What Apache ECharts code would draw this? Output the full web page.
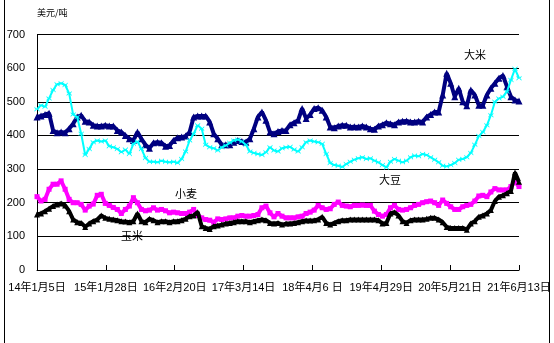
<!DOCTYPE html>
<html>
<head>
<meta charset="utf-8">
<script src="https://cdn.jsdelivr.net/npm/echarts@6/dist/echarts.min.js"></script>
<style>
  html, body { margin: 0; padding: 0; background: #fff; }
  #chart { width: 554px; height: 343px; }
</style>
</head>
<body>
<div id="chart"></div>
<script>
// Date axis: day offsets from 2014-01-05; ticks every 388 days up to 2021-06-13
const tickLabels = ['14年1月5日', '15年1月28日', '16年2月20日', '17年3月14日',
                    '18年4月6 日', '19年4月29日', '20年5月21日', '21年6月13日'];
const tickStepDays = 388;
const spanDays = 2716;

// Price samples (美元/吨), evenly spaced over the whole span
const rice = [
  455,458,462,466,415,408,410,408,420,435,
  455,460,442,440,430,428,428,430,428,428,
  415,410,400,390,385,410,390,372,362,378,
  380,378,368,370,385,393,395,398,410,455,
  458,458,458,440,405,390,372,372,372,380,
  385,382,380,390,420,455,470,445,410,405,
  412,
  415,415,432,438,445,480,450,462,480,482,
  475,455,425,423,428,430,430,425,426,425,
  428,425,420,418,428,432,438,435,432,440,
  442,443,440,440,442,440,455,462,470,470,
  520,585,555,515,540,500,488,535,520,490,
  490,520,540,555,570,578,545,515,505,502
];
const soybean = [
  478,490,485,510,535,552,555,550,525,462,
  455,405,342,360,380,385,382,385,368,365,
  360,350,358,345,375,382,360,333,322,322,
  320,325,322,320,322,318,330,352,385,405,
  430,420,372,365,362,355,365,370,378,385,
  388,382,372,352,348,345,342,350,365,355,
  352,
  362,365,366,358,352,365,380,385,382,380,
  375,345,318,312,310,306,315,322,328,332,
  335,330,332,325,320,312,305,322,330,325,
  320,325,335,340,338,345,342,335,328,320,
  310,308,312,318,328,330,335,348,372,398,
  410,430,460,500,510,515,530,565,598,570
];
const wheat = [
  218,205,210,240,255,255,265,240,210,200,
  200,195,178,190,196,222,225,198,192,186,
  180,168,180,190,215,200,180,176,178,185,
  178,180,176,170,172,170,168,168,172,180,
  162,155,150,148,142,152,150,152,155,155,
  160,162,160,160,162,165,185,190,170,158,
  168,
  160,155,155,155,158,160,168,172,178,192,
  185,180,182,195,202,192,190,188,192,192,
  193,192,192,175,165,160,165,185,192,180,
  178,180,185,192,195,200,203,205,200,192,
  208,198,188,180,180,188,192,195,205,220,
  222,218,232,242,238,238,238,248,262,248
];
const corn = [
  165,168,175,182,190,195,198,192,175,150,
  142,140,128,138,145,150,162,155,152,150,
  148,145,144,142,145,168,145,142,152,148,
  142,145,145,142,145,145,148,152,160,162,
  172,130,125,122,130,132,135,138,140,142,
  145,145,145,142,145,148,150,148,140,138,
  140,
  135,138,138,140,142,145,147,147,148,150,
  158,140,135,140,145,148,148,150,150,150,
  150,150,150,150,148,138,140,168,172,162,
  145,140,148,150,150,150,152,155,155,150,
  142,128,125,125,125,125,120,138,145,158,
  162,168,178,205,218,222,228,235,290,262
];

const seriesNames = ['大米', '大豆', '小麦', '玉米'];
const seriesColors = ['#000080', '#00FFFF', '#FF00FF', '#000000'];
const seriesWidths = [4, 2, 4, 4];
const crossMark = 'path://M0,0L2,2L4,0L4,1L3,2L4,3L4,4L2,2L0,4L0,3L1,2L0,1Z';
const seriesSymbols = ['triangle', crossMark, 'rect', 'triangle'];
const seriesSymbolSizes = [7, 5, 5, 6];
const seriesValues = [rice, soybean, wheat, corn];

function toPoints(values) {
  const step = spanDays / (values.length - 1);
  return values.map((v, i) => [i * step, v]);
}

const numFont = "'Liberation Sans Narrow', 'Liberation Sans', 'Noto Sans CJK SC', sans-serif";
const cjkFont = "'Noto Sans CJK SC', sans-serif";

const chart = echarts.init(document.getElementById('chart'), null, { renderer: 'canvas' });
chart.setOption({
  animation: false,
  backgroundColor: '#ffffff',
  grid: { left: 37, right: 35, top: 34.5, bottom: 73, containLabel: false },
  xAxis: {
    type: 'value',
    min: 0,
    max: spanDays,
    interval: tickStepDays,
    axisLine: { show: true, lineStyle: { color: '#000', width: 1 } },
    axisTick: { show: true, inside: true, length: 5, lineStyle: { color: '#000' } },
    splitLine: { show: false },
    axisLabel: {
      margin: 12,
      color: '#000',
      fontSize: 11,
      fontFamily: numFont,
      showMinLabel: true,
      showMaxLabel: true,
      hideOverlap: false,
      formatter: v => tickLabels[Math.round(v / tickStepDays)] || ''
    }
  },
  yAxis: {
    type: 'value',
    min: 0,
    max: 700,
    interval: 100,
    axisLine: { show: true, lineStyle: { color: '#000', width: 1 } },
    axisTick: { show: false },
    splitLine: { show: true, lineStyle: { color: '#000', width: 1 } },
    axisLabel: { margin: 12, color: '#000', fontSize: 11, fontFamily: numFont }
  },
  series: seriesValues.map((vals, k) => ({
    name: seriesNames[k],
    type: 'line',
    data: toPoints(vals),
    symbol: seriesSymbols[k],
    symbolSize: seriesSymbolSizes[k],
    showSymbol: true,
    showAllSymbol: true,
    smooth: false,
    lineStyle: { color: seriesColors[k], width: seriesWidths[k], join: 'bevel' },
    itemStyle: { color: seriesColors[k], borderWidth: 0 },
    z: 2 + k
  })),
  graphic: [
    { type: 'text', left: 37, top: 8,
      style: { text: '美元/吨', fill: '#000', font: "9px " + cjkFont } },
    { type: 'text', x: 475, y: 55,
      style: { text: '大米', fill: '#000', font: "11px " + cjkFont, align: 'center', verticalAlign: 'middle' } },
    { type: 'text', x: 390, y: 180,
      style: { text: '大豆', fill: '#000', font: "11px " + cjkFont, align: 'center', verticalAlign: 'middle' } },
    { type: 'text', x: 186, y: 194,
      style: { text: '小麦', fill: '#000', font: "11px " + cjkFont, align: 'center', verticalAlign: 'middle' } },
    { type: 'text', x: 132, y: 236,
      style: { text: '玉米', fill: '#000', font: "11px " + cjkFont, align: 'center', verticalAlign: 'middle' } },
    { type: 'line', shape: { x1: 4.5, y1: 0, x2: 4.5, y2: 343 }, style: { stroke: '#000', lineWidth: 1 } },
    { type: 'line', shape: { x1: 549.5, y1: 0, x2: 549.5, y2: 343 }, style: { stroke: '#000', lineWidth: 1 } }
  ]
});
</script>
</body>
</html>
